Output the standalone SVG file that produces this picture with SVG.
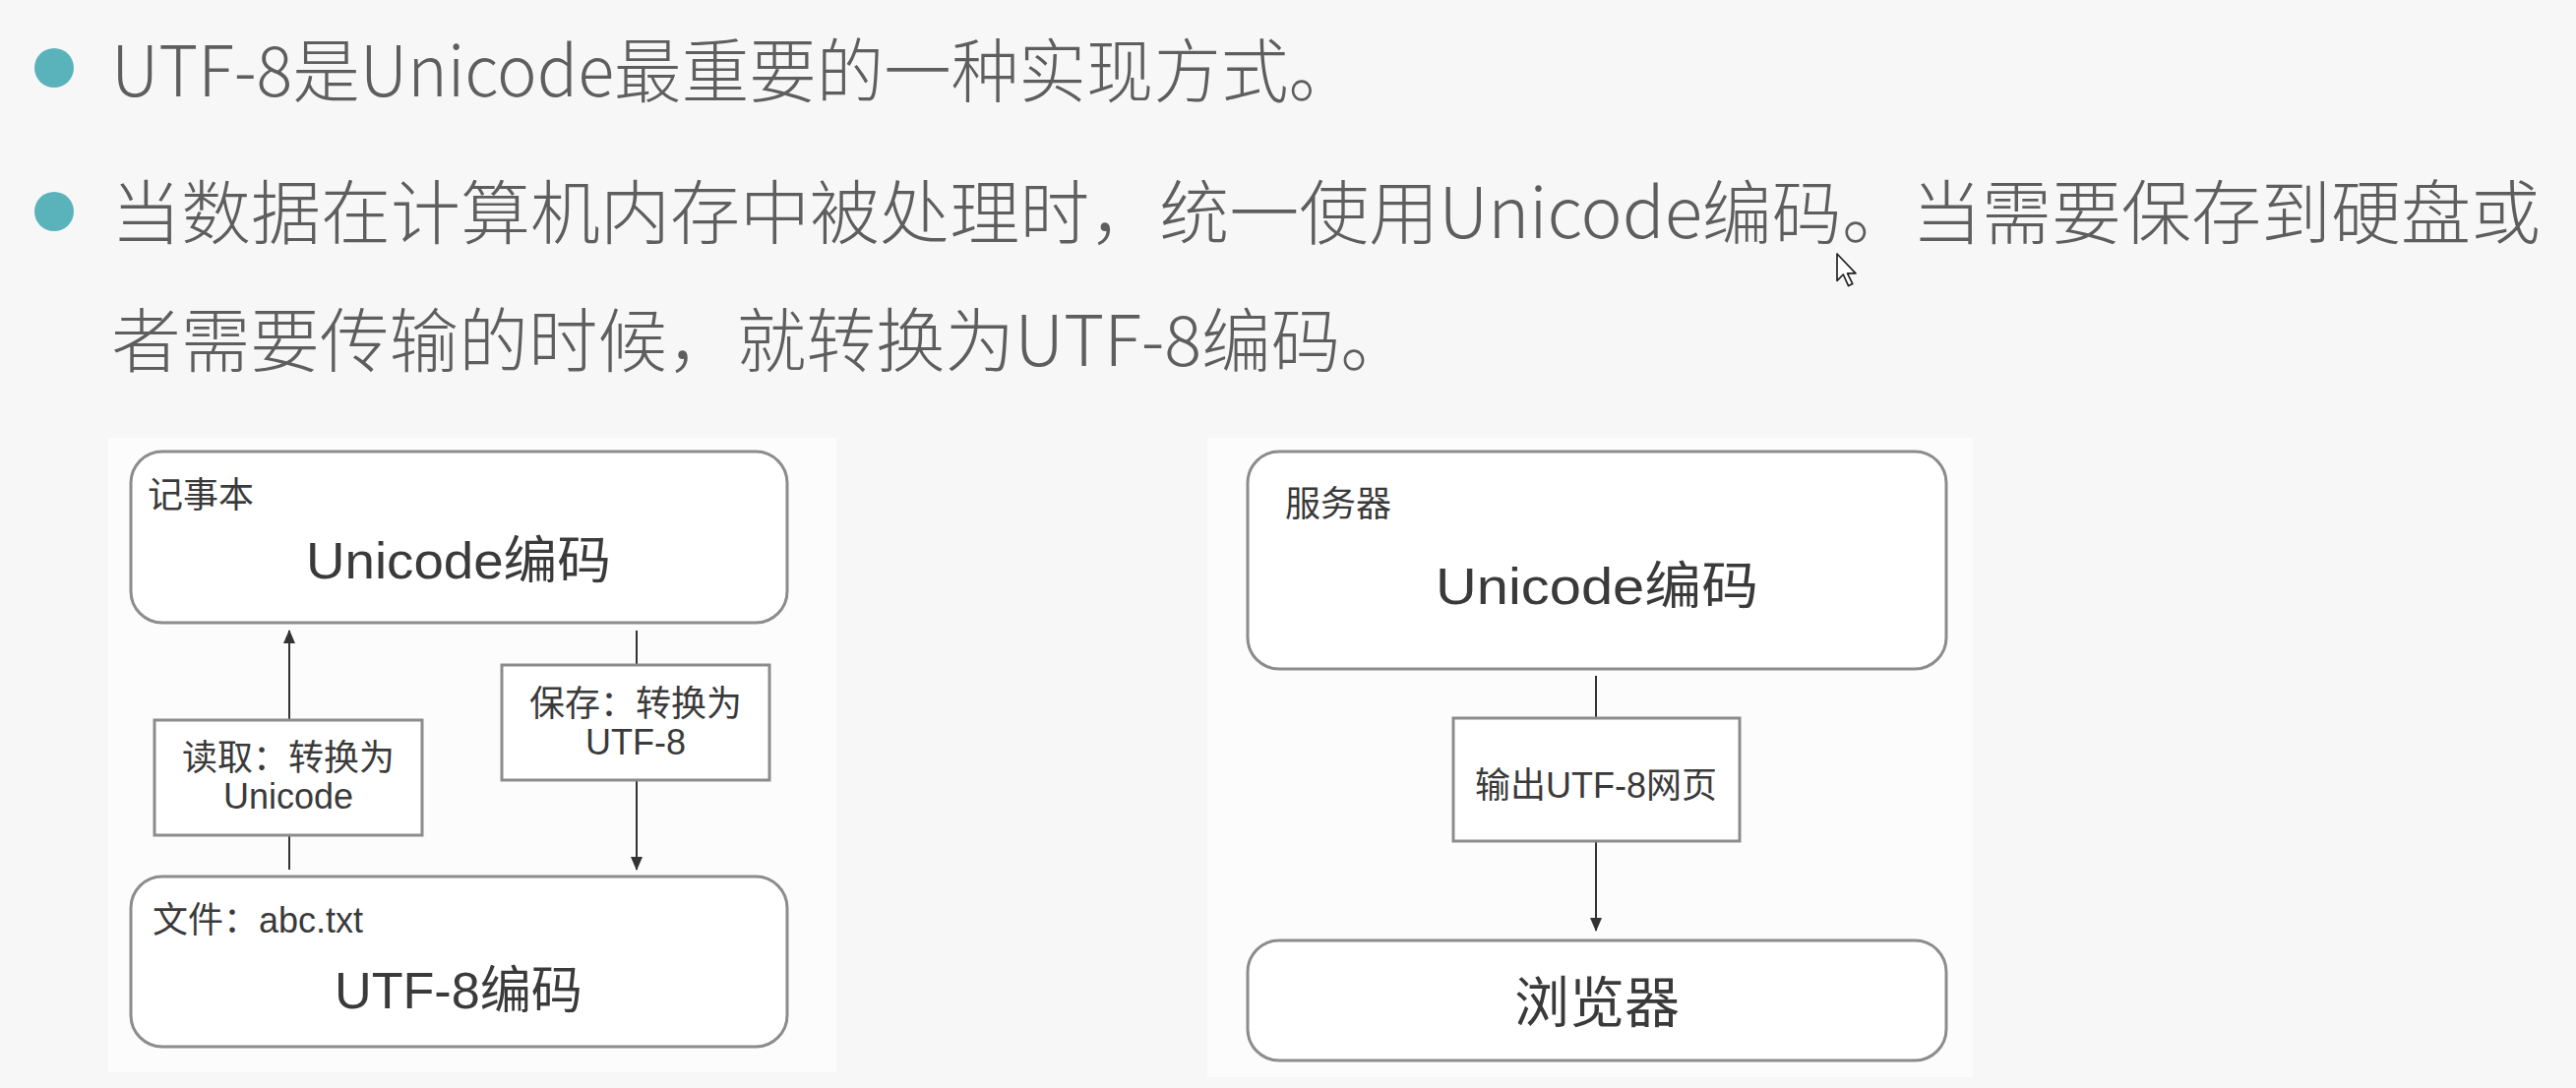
<svg xmlns="http://www.w3.org/2000/svg" width="2618" height="1106" viewBox="0 0 2618 1106">
<style>
.body{font-family:"Noto Sans CJK SC","Noto Sans",sans-serif;font-size:71px;font-weight:300;fill:#5e5e5e}
.lbl{font-family:"Liberation Sans","Noto Sans CJK SC",sans-serif;fill:#3a3a3a}
.big{font-size:52px;text-anchor:middle}
.small{font-size:36px}
.mid{font-size:36px;text-anchor:middle}
.node{fill:#ffffff;stroke:#8c8c8c;stroke-width:3}
.conn{stroke:#333333;stroke-width:2;fill:none}
.bullet{fill:#5ab3bb}
</style>
<defs>
<marker id="ah" markerUnits="userSpaceOnUse" markerWidth="14" markerHeight="12" viewBox="0 0 14 12" refX="13" refY="6" orient="auto">
<path d="M0,0 L14,6 L0,12 Z" fill="#333333"/>
</marker>
</defs>
<rect width="2618" height="1106" fill="#f7f7f7"/>
<rect x="110" y="445" width="740" height="645" fill="#fcfcfc"/>
<rect x="1227" y="445" width="778" height="650" fill="#fcfcfc"/>

<g id="bullets">
<circle class="bullet" cx="55" cy="69" r="20"/>
<circle class="bullet" cx="55" cy="215" r="20"/>
</g>
<g id="text-body">
<text class="body" x="113" y="98" textLength="1265" lengthAdjust="spacingAndGlyphs">UTF-8是Unicode最重要的一种实现方式。</text>
<text class="body" x="113" y="242" textLength="2469" lengthAdjust="spacingAndGlyphs">当数据在计算机内存中被处理时，统一使用Unicode编码。当需要保存到硬盘或</text>
<text class="body" x="113" y="372" textLength="1320" lengthAdjust="spacingAndGlyphs">者需要传输的时候，就转换为UTF-8编码。</text>
</g>
<g id="cursor">
<path d="M0,0 L0,26 L6,20 L11,31 L15,29 L10,19 L18,19 Z" transform="translate(1867,258) scale(1.05)" fill="#ffffff" stroke="#222222" stroke-width="1.6" stroke-linejoin="round"/>
</g>

<g id="connectors">
<line class="conn" x1="294" y1="884" x2="294" y2="850"/>
<line class="conn" x1="294" y1="731" x2="294" y2="641" marker-end="url(#ah)"/>
<line class="conn" x1="647" y1="641" x2="647" y2="676"/>
<line class="conn" x1="647" y1="793" x2="647" y2="884" marker-end="url(#ah)"/>
<line class="conn" x1="1622" y1="687" x2="1622" y2="730"/>
<line class="conn" x1="1622" y1="855" x2="1622" y2="946" marker-end="url(#ah)"/>
</g>

<g id="node-notepad">
<rect class="node" x="133" y="459" width="667" height="174" rx="32" ry="32"/>
<text class="lbl small" x="150" y="516">记事本</text>
<text class="lbl big" x="466" y="588" textLength="310" lengthAdjust="spacingAndGlyphs">Unicode编码</text>
</g>
<g id="node-read">
<rect class="node" x="157" y="732" width="272" height="117"/>
<text class="lbl mid" x="293" y="783">读取：转换为</text>
<text class="lbl mid" x="293" y="822">Unicode</text>
</g>
<g id="node-save">
<rect class="node" x="510" y="676" width="272" height="117"/>
<text class="lbl mid" x="646" y="728">保存：转换为</text>
<text class="lbl mid" x="646" y="767">UTF-8</text>
</g>
<g id="node-file">
<rect class="node" x="133" y="891" width="667" height="173" rx="32" ry="32"/>
<text class="lbl small" x="155" y="948">文件：abc.txt</text>
<text class="lbl big" x="466" y="1025" textLength="252" lengthAdjust="spacingAndGlyphs">UTF-8编码</text>
</g>

<g id="node-server">
<rect class="node" x="1268" y="459" width="710" height="221" rx="32" ry="32"/>
<text class="lbl small" x="1306" y="525">服务器</text>
<text class="lbl big" x="1623" y="614" textLength="328" lengthAdjust="spacingAndGlyphs">Unicode编码</text>
</g>
<g id="node-output">
<rect class="node" x="1477" y="730" width="291" height="125"/>
<text class="lbl mid" x="1622" y="811">输出UTF-8网页</text>
</g>
<g id="node-browser">
<rect class="node" x="1268" y="956" width="710" height="122" rx="32" ry="32"/>
<text class="lbl big" x="1623" y="1039" style="font-size:56px">浏览器</text>
</g>
</svg>
